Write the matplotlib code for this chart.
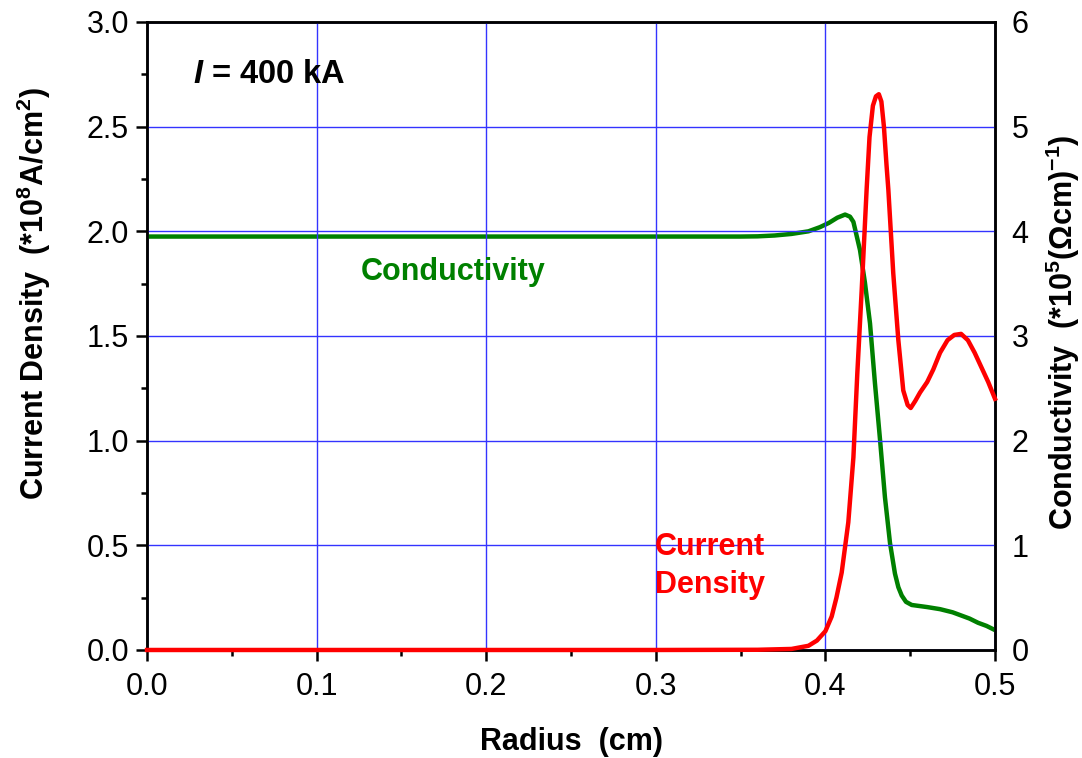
import numpy as np
import matplotlib
matplotlib.use("Agg")
import matplotlib.pyplot as plt
from matplotlib.ticker import MultipleLocator

plt.rcParams["font.family"] = ["Liberation Sans", "DejaVu Sans"]
plt.rcParams["mathtext.fontset"] = "custom"
plt.rcParams["mathtext.rm"] = "Liberation Sans:bold"
plt.rcParams["mathtext.bf"] = "Liberation Sans:bold"
plt.rcParams["mathtext.it"] = "Liberation Sans:bold:italic"
plt.rcParams["mathtext.default"] = "bf"

# current density (left axis, *1e8 A/cm^2)
r_j = [0.0, 0.30, 0.36, 0.38, 0.39, 0.395, 0.400, 0.4037, 0.4065, 0.4096, 0.4135,
       0.4165, 0.4188, 0.4214, 0.4243, 0.4260, 0.4280, 0.4298, 0.4315, 0.4330,
       0.4345, 0.4360, 0.4371, 0.4400, 0.4430, 0.4459, 0.4485, 0.4503, 0.4530,
       0.4558, 0.4600, 0.4636, 0.4676, 0.4720, 0.4760, 0.4800, 0.4840, 0.4880,
       0.4920, 0.4960, 0.5000]
j_vals = [0.0, 0.0, 0.001, 0.005, 0.02, 0.045, 0.09, 0.16, 0.25, 0.37, 0.61,
          0.92, 1.32, 1.72, 2.20, 2.45, 2.60, 2.645, 2.655, 2.62,
          2.50, 2.32, 2.20, 1.80, 1.48, 1.24, 1.17, 1.156, 1.19,
          1.23, 1.28, 1.34, 1.42, 1.48, 1.505, 1.51, 1.48, 1.42,
          1.35, 1.28, 1.20]

# conductivity (right axis, *1e5 (Ohm cm)^-1)
r_s = [0.0, 0.35, 0.36, 0.37, 0.38, 0.39, 0.3968, 0.402, 0.407, 0.4116, 0.4145,
       0.4165, 0.4204, 0.4233, 0.4263, 0.4292, 0.4322, 0.4351, 0.4381, 0.4410,
       0.4430, 0.4450, 0.4475, 0.4509, 0.4600, 0.4676, 0.4750, 0.4800, 0.4850,
       0.4900, 0.4950, 0.5000]
s_vals = [3.95, 3.95, 3.952, 3.96, 3.975, 4.00, 4.04, 4.08, 4.13, 4.16, 4.14,
          4.09, 3.82, 3.51, 3.12, 2.55, 2.01, 1.46, 1.02, 0.73,
          0.60, 0.52, 0.46, 0.43, 0.41, 0.39, 0.36, 0.33, 0.30,
          0.26, 0.23, 0.19]

fig = plt.figure(figsize=(10.82, 7.58), dpi=100)
ax = fig.add_axes([0.1359, 0.1425, 0.7837, 0.8285])
ax2 = ax.twinx()

ax.set_xlim(0, 0.5)
ax.set_ylim(0, 3.0)
ax2.set_ylim(0, 6)

ax.xaxis.set_major_locator(MultipleLocator(0.1))
ax.xaxis.set_minor_locator(MultipleLocator(0.05))
ax.yaxis.set_major_locator(MultipleLocator(0.5))
ax.yaxis.set_minor_locator(MultipleLocator(0.25))
ax2.yaxis.set_major_locator(MultipleLocator(1))

ax.grid(True, which="major", color="#3333ff", linewidth=1.0)
ax.set_axisbelow(True)

ax2.plot(r_s, s_vals, color="#008000", linewidth=3.2, zorder=3)
ax.plot(r_j, j_vals, color="#ff0000", linewidth=3.2, zorder=4, clip_on=False)
ax.set_zorder(ax2.get_zorder() + 1)
ax.patch.set_visible(False)

for a in (ax, ax2):
    for s in a.spines.values():
        s.set_linewidth(1.8)

ax.tick_params(axis="both", which="major", direction="out", length=8, width=1.8,
               labelsize=22, top=False, right=False, pad=5)
ax.tick_params(axis="x", which="major", pad=8)
ax.tick_params(axis="both", which="minor", direction="out", length=4.5, width=1.8,
               top=False, right=False)
ax2.tick_params(axis="y", which="both", length=0, labelsize=22, pad=12)

ax.set_xlabel("Radius  (cm)", fontsize=22, fontweight="bold")
ax.set_ylabel("Current Density  (*10$^8$A/cm$^2$)", fontsize=22, fontweight="bold")
ax2.set_ylabel("Conductivity  (*10$^5$($\\Omega$cm)$^{-1}$)", fontsize=22, fontweight="bold")
ax.xaxis.set_label_coords(0.5, -0.122)
ax.yaxis.set_label_coords(-0.111, 0.568)
ax2.yaxis.set_label_coords(1.058, 0.506)

ax.text(0.027, 2.75, "$\\mathit{I}$ = 400 kA", fontsize=23.5, fontweight="bold",
        va="center", ha="left")
ax.text(0.1805, 1.806, "Conductivity", color="#008000", fontsize=22, fontweight="bold",
        va="center", ha="center")
ax.text(0.2995, 0.40, "Current\nDensity", color="#ff0000", fontsize=22, fontweight="bold",
        va="center", ha="left", linespacing=1.33)

fig.savefig("out.png", dpi=100)
